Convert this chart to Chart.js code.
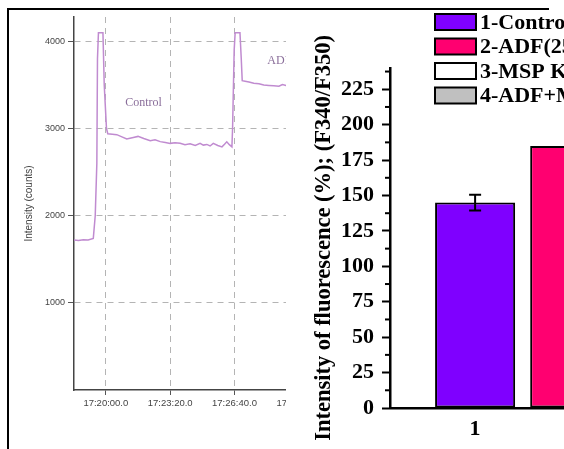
<!DOCTYPE html>
<html>
<head>
<meta charset="utf-8">
<script src="https://cdn.jsdelivr.net/npm/chart.js@4/dist/chart.umd.min.js"></script>
<style>
  body { margin: 0; background: #fff; width: 564px; height: 449px; overflow: hidden; position: relative; }
  .panel { position: absolute; top: 0; height: 449px; overflow: hidden; }
  #leftPanel { left: 0; width: 286px; }
  #rightPanel { left: 290px; width: 274px; }
  .frame { position: absolute; background: #000; }
</style>
</head>
<body>
<div class="panel" id="leftPanel"><canvas id="trace" width="340" height="449"></canvas></div>
<div class="panel" id="rightPanel"><canvas id="bars" width="420" height="449"></canvas></div>
<div class="frame" style="left:8px; top:8px; width:541px; height:2px"></div>
<div class="frame" style="left:7px; top:8px; width:2px; height:441px"></div>
<script>
// left panel: fluorescence trace, time in seconds after 17:00:00
const timeSec = [1101, 1115, 1130, 1145, 1161, 1167, 1172, 1174, 1177, 1191, 1195, 1202, 1206, 1220,
  1234, 1250, 1265, 1282, 1300, 1318, 1338, 1353, 1369, 1385, 1400, 1415, 1431, 1446, 1462, 1478,
  1493, 1503, 1514, 1524, 1534, 1548, 1561, 1569, 1576, 1584, 1592, 1594, 1599, 1602, 1617, 1621,
  1624, 1633, 1645, 1660, 1676, 1691, 1707, 1722, 1738, 1749, 1760, 1790]
const intensity = [1720, 1715, 1725, 1722, 1740, 2000, 2600, 3800, 4100, 4100, 3500, 3000, 2940, 2935,
  2930, 2905, 2880, 2895, 2910, 2885, 2860, 2870, 2850, 2840, 2830, 2838, 2832, 2815, 2825, 2805,
  2830, 2810, 2818, 2800, 2830, 2805, 2790, 2820, 2848, 2815, 2790, 3000, 3900, 4100, 4100, 3800,
  3550, 3544, 3535, 3520, 3515, 3500, 3495, 3490, 3485, 3505, 3495, 3490]
const timeTicks = [1200, 1400, 1600, 1800]
const intensityTicks = [1000, 2000, 3000, 4000]
const traceNotes = ['Control', 'ADF']
const noteTime = [1260, 1702]
const noteLevel = [3300, 3780]

// right panel: bar chart
const groups = ['1', '2']
const groupPos = [1, 2]
const fluorescence = [145, 185]
const fluorescenceErr = [5.5, 5]
const legendLabels = ['1-Control', '2-ADF(25 μg/mL)', '3-MSP K', '4-ADF+MSP K']
const legendColors = ['#7f00ff', '#ff0070', '#ffffff', '#c0c0c0']

const pad2 = n => String(n).padStart(2, '0')
const clock = s => `17:${pad2(Math.floor(s / 60))}:${pad2(Math.round(s % 60))}.0`

const traceNotesPlugin = {
  id: 'traceNotes',
  afterDatasetsDraw(chart) {
    const { ctx, scales: { x, y } } = chart
    ctx.save()
    ctx.font = '12px "Liberation Serif"'
    ctx.fillStyle = '#8a6e9a'
    ctx.textBaseline = 'middle'
    traceNotes.forEach((t, i) => {
      ctx.fillText(t, x.getPixelForValue(noteTime[i]), y.getPixelForValue(noteLevel[i]))
    })
    ctx.restore()
  }
}

new Chart(document.getElementById('trace'), {
  type: 'line',
  data: {
    datasets: [{
      data: timeSec.map((t, i) => ({ x: t, y: intensity[i] })),
      borderColor: '#c08bd0',
      borderWidth: 1.5,
      pointRadius: 0,
      tension: 0
    }]
  },
  options: {
    responsive: false,
    animation: false,
    layout: { padding: { top: 17, left: 0, right: 0, bottom: 0 } },
    plugins: { legend: { display: false }, tooltip: { enabled: false } },
    scales: {
      x: {
        type: 'linear',
        min: 1101,
        max: 1928,
        afterFit: s => { s.width = 266; s.height = 59 },
        afterBuildTicks: s => { s.ticks = timeTicks.map(v => ({ value: v })) },
        grid: { color: '#b4b4b4', tickLength: 5, tickColor: '#555', tickBorderDash: [] },
        border: { color: '#444', width: 1.5, dash: [6, 5] },
        ticks: {
          autoSkip: false,
          maxRotation: 0,
          padding: 3,
          color: '#444',
          font: { family: '"Liberation Sans"', size: 9.5 },
          callback: v => clock(v)
        }
      },
      y: {
        min: 0,
        max: 4280,
        afterFit: s => { s.width = 74 },
        afterBuildTicks: s => { s.ticks = intensityTicks.map(v => ({ value: v })) },
        grid: { color: '#b4b4b4', tickLength: 6, tickColor: '#555', tickBorderDash: [] },
        border: { color: '#444', width: 1.5, dash: [6, 5] },
        ticks: {
          padding: 3,
          color: '#444',
          font: { family: '"Liberation Sans"', size: 9 },
          callback: v => String(v)
        },
        title: {
          display: true,
          text: 'Intensity (counts)',
          color: '#444',
          font: { family: '"Liberation Sans"', size: 10 },
          padding: { top: 23, bottom: 0 }
        }
      }
    }
  },
  plugins: [traceNotesPlugin]
})

const barExtrasPlugin = {
  id: 'barExtras',
  afterDatasetsDraw(chart) {
    const { ctx, scales: { y } } = chart
    const meta = chart.getDatasetMeta(0)
    ctx.save()
    ctx.strokeStyle = '#000'
    ctx.lineWidth = 2
    meta.data.forEach((bar, i) => {
      const top = y.getPixelForValue(fluorescence[i] + fluorescenceErr[i])
      const bot = y.getPixelForValue(fluorescence[i] - fluorescenceErr[i])
      ctx.beginPath()
      ctx.moveTo(bar.x, top); ctx.lineTo(bar.x, bot)
      ctx.moveTo(bar.x - 6, top); ctx.lineTo(bar.x + 6, top)
      ctx.moveTo(bar.x - 6, bot); ctx.lineTo(bar.x + 6, bot)
      ctx.stroke()
    })
    // minor ticks on the y axis
    for (let v = 12.5; v < y.max; v += 25) {
      const py = y.getPixelForValue(v)
      ctx.beginPath()
      ctx.moveTo(y.right - 5, py); ctx.lineTo(y.right, py)
      ctx.stroke()
    }
    // legend
    ctx.font = 'bold 22px "Liberation Serif"'
    ctx.textBaseline = 'middle'
    legendLabels.forEach((t, i) => {
      const cy = 22 + i * 24.5
      ctx.fillStyle = legendColors[i]
      ctx.fillRect(145, cy - 8, 41, 16)
      ctx.strokeRect(145, cy - 8, 41, 16)
      ctx.fillStyle = '#000'
      ctx.fillText(t, 190, cy + 1)
    })
    ctx.restore()
  }
}

new Chart(document.getElementById('bars'), {
  type: 'bar',
  data: {
    datasets: [{
      data: groupPos.map((p, i) => ({ x: p, y: fluorescence[i] })),
      backgroundColor: legendColors.slice(0, groups.length),
      borderColor: '#000',
      borderWidth: 2,
      borderSkipped: false,
      barPercentage: 0.842,
      categoryPercentage: 1
    }]
  },
  options: {
    responsive: false,
    animation: false,
    layout: { padding: { top: 68, left: 0, right: 0, bottom: 0 } },
    plugins: { legend: { display: false }, tooltip: { enabled: false } },
    scales: {
      x: {
        type: 'linear',
        min: 0.105,
        max: 3.47,
        offset: false,
        afterFit: s => { s.height = 41 },
        grid: { display: false, drawTicks: false },
        border: { color: '#000', width: 2.5 },
        ticks: {
          stepSize: 1,
          includeBounds: false,
          padding: 8,
          color: '#000',
          font: { family: '"Liberation Serif"', size: 22, weight: 'bold' },
          callback: v => groups[groupPos.indexOf(v)] ?? ''
        }
      },
      y: {
        min: 0,
        max: 240,
        afterFit: s => { s.width = 100 },
        grid: { drawOnChartArea: false, tickLength: 8, tickColor: '#000', tickWidth: 2 },
        border: { color: '#000', width: 2.5 },
        ticks: {
          stepSize: 25,
          includeBounds: false,
          padding: 8,
          color: '#000',
          font: { family: '"Liberation Serif"', size: 22, weight: 'bold' }
        },
        title: {
          display: true,
          text: 'Intensity of fluorescence (%); (F340/F350)',
          color: '#000',
          font: { family: '"Liberation Serif"', size: 22.5, weight: 'bold' },
          padding: { top: 21, bottom: 0 }
        }
      }
    }
  },
  plugins: [barExtrasPlugin]
})
</script>
</body>
</html>
